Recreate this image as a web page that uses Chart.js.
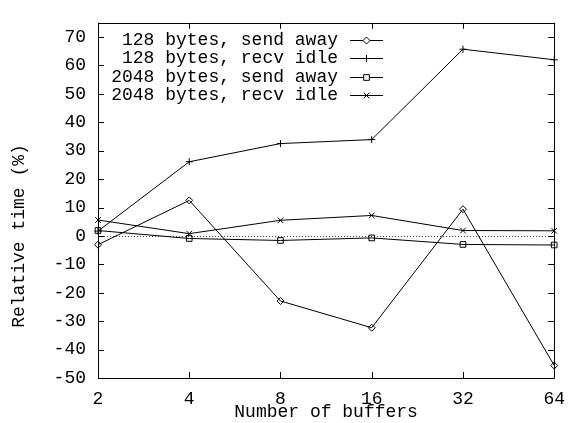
<!DOCTYPE html>
<html lang="en">
<head>
<meta charset="UTF-8">
<title>Relative time vs number of buffers</title>
<script src="https://cdn.jsdelivr.net/npm/chart.js@4/dist/chart.umd.min.js"></script>
<style>
  body { margin: 0; background: #fff; }
</style>
</head>
<body>
<canvas id="chart" width="575" height="423"></canvas>
<script>
// values
const xLabels = ['2', '4', '8', '16', '32', '64'];
const sendAway128 = [-3.1, 12.5, -22.9, -32.3, 9.4, -45.6];
const recvIdle128 = [1.7, 26.1, 32.5, 33.9, 65.7, 62.0];
const sendAway2048 = [1.9, -0.9, -1.6, -0.7, -3.0, -3.2];
const recvIdle2048 = [5.6, 0.8, 5.5, 7.2, 1.9, 1.8];
const yTicks = [-50, -40, -30, -20, -10, 0, 10, 20, 30, 40, 50, 60, 70];

const FONT = 'Liberation Mono, DejaVu Sans Mono, monospace';

function series(label, data, pointStyle, radius) {
  return {
    label: label,
    data: data,
    borderColor: '#000',
    backgroundColor: 'rgba(0,0,0,0)',
    borderWidth: 1,
    pointStyle: pointStyle,
    pointRadius: radius,
    pointBorderWidth: 1,
    pointBorderColor: '#000',
    pointBackgroundColor: 'rgba(0,0,0,0)',
    tension: 0,
    fill: false,
    clip: false
  };
}

// gnuplot-ish frame, inward ticks, zero axis, legend and y title
const gnuplotLook = {
  id: 'gnuplotLook',
  beforeDatasetsDraw(chart) {
    const ctx = chart.ctx, a = chart.chartArea, y = chart.scales.y;
    const y0 = y.getPixelForValue(0);
    ctx.save();
    ctx.strokeStyle = '#444';
    ctx.lineWidth = 1;
    ctx.setLineDash([1, 2]);
    ctx.beginPath();
    ctx.moveTo(a.left, Math.round(y0) + 0.5);
    ctx.lineTo(a.right, Math.round(y0) + 0.5);
    ctx.stroke();
    ctx.restore();
  },
  afterDraw(chart) {
    const ctx = chart.ctx, a = chart.chartArea;
    const xs = chart.scales.x, ys = chart.scales.y;
    const t = 6;
    ctx.save();
    ctx.strokeStyle = '#000';
    ctx.lineWidth = 1;
    ctx.beginPath();
    ctx.rect(Math.round(a.left) + 0.5, Math.round(a.top) + 0.5,
             Math.round(a.right - a.left), Math.round(a.bottom - a.top));
    xLabels.forEach((l, i) => {
      const px = Math.round(xs.getPixelForValue(i)) + 0.5;
      ctx.moveTo(px, a.bottom); ctx.lineTo(px, a.bottom - t);
      ctx.moveTo(px, a.top); ctx.lineTo(px, a.top + t);
    });
    yTicks.forEach(v => {
      const py = Math.round(ys.getPixelForValue(v)) + 0.5;
      ctx.moveTo(a.left, py); ctx.lineTo(a.left + t, py);
      ctx.moveTo(a.right, py); ctx.lineTo(a.right - t, py);
    });
    ctx.stroke();

    // legend
    ctx.font = '18px ' + FONT;
    ctx.textAlign = 'right';
    ctx.textBaseline = 'middle';
    chart.data.datasets.forEach((ds, i) => {
      const ly = 40 + i * 18.4;
      ctx.fillStyle = '#000';
      ctx.fillText(ds.label, 338, ly);
      ctx.beginPath();
      ctx.moveTo(350, Math.round(ly) + 0.5);
      ctx.lineTo(383, Math.round(ly) + 0.5);
      ctx.stroke();
      ctx.fillStyle = '#fff';
      Chart.helpers.drawPoint(ctx, {
        pointStyle: ds.pointStyle, radius: ds.pointRadius, rotation: 0, borderWidth: 1
      }, 366.5, Math.round(ly) + 0.5);
    });

    // y axis title
    ctx.fillStyle = '#000';
    ctx.translate(19, 236);
    ctx.rotate(-Math.PI / 2);
    ctx.textAlign = 'center';
    ctx.fillText('Relative time (%)', 0, 0);
    ctx.restore();
  }
};

new Chart(document.getElementById('chart'), {
  type: 'line',
  data: {
    labels: xLabels,
    datasets: [
      series('128 bytes, send away', sendAway128, 'rectRot', 3.5),
      series('128 bytes, recv idle', recvIdle128, 'cross', 3.5),
      series('2048 bytes, send away', sendAway2048, 'rect', 4),
      series('2048 bytes, recv idle', recvIdle2048, 'crossRot', 4)
    ]
  },
  options: {
    responsive: false,
    animation: false,
    layout: { padding: { top: 12, right: 11, left: 0, bottom: 0 } },
    plugins: { legend: { display: false }, tooltip: { enabled: false } },
    scales: {
      x: {
        type: 'category',
        offset: false,
        grid: { display: false, drawTicks: false },
        border: { display: false },
        ticks: { color: '#000', font: { family: FONT, size: 18 }, padding: 10, maxRotation: 0, autoSkip: false },
        title: { display: true, text: 'Number of buffers', color: '#000', font: { family: FONT, size: 18 }, padding: { top: 0, bottom: 0 } },
        afterFit(s) { s.height = 45; }
      },
      y: {
        min: -50,
        max: 75,
        grid: { display: false, drawTicks: false },
        border: { display: false },
        ticks: { color: '#000', font: { family: FONT, size: 18 }, padding: 12 },
        afterBuildTicks(s) { s.ticks = yTicks.map(v => ({ value: v })); },
        afterFit(s) { s.width = 98; }
      }
    }
  },
  plugins: [gnuplotLook]
});
</script>
</body>
</html>
